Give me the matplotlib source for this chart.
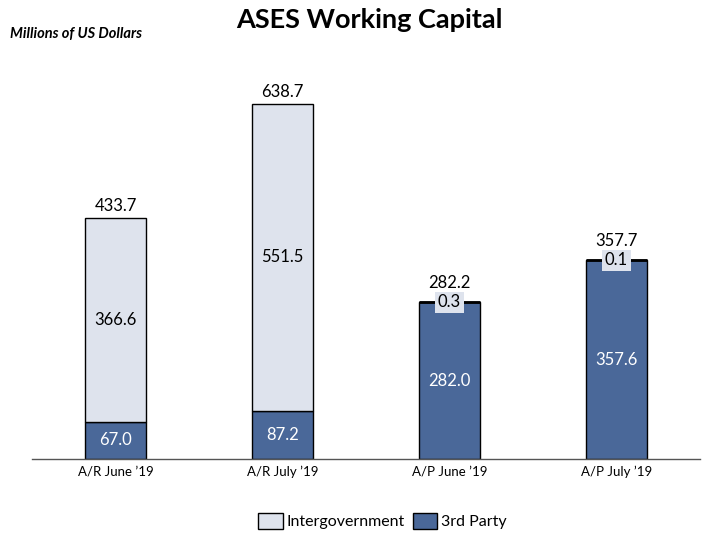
import matplotlib
matplotlib.use("Agg")
import matplotlib.pyplot as plt
from matplotlib.patches import Patch

plt.rcParams['font.family'] = ['Lato', 'DejaVu Sans']

categories = ["A/R June \u201919", "A/R July \u201919", "A/P June \u201919", "A/P July \u201919"]
third_party = [67.0, 87.2, 282.0, 357.6]
intergov = [366.6, 551.5, 0.3, 0.1]
totals = ["433.7", "638.7", "282.2", "357.7"]

light = "#dee3ed"
dark = "#4a6899"

fig = plt.figure(figsize=(7.03, 5.33), dpi=100)
ax = fig.add_axes([32/703, (533-459)/533, 668/703, (459-60)/533])

x = list(range(len(categories)))
w = 0.37
ax.bar(x, third_party, width=w, color=dark, edgecolor="black", linewidth=1, zorder=2)
ax.bar(x, intergov, width=w, bottom=third_party, color=light, edgecolor="black", linewidth=1, zorder=2)

fs = 12
for i in x:
    tp = third_party[i]
    ig = intergov[i]
    top = tp + ig
    ax.text(i, tp / 2, f"{tp:.1f}", ha="center", va="center", color="white", fontsize=fs, zorder=4)
    if ig > 20:
        ax.text(i, tp + ig / 2, f"{ig:.1f}", ha="center", va="center", color="black", fontsize=fs, zorder=4)
        ax.text(i, top + 8, totals[i], ha="center", va="bottom", fontsize=fs, zorder=4)
    else:
        ax.plot([i - w/2, i + w/2], [top, top], color="black", linewidth=2, zorder=3, solid_capstyle="butt")
        ax.text(i, top, f"{ig:.1f}", ha="center", va="center", color="black", fontsize=fs, zorder=4,
                bbox=dict(boxstyle="square,pad=0.15", facecolor=light, edgecolor="none"))
        ax.text(i, top + 20, totals[i], ha="center", va="bottom", fontsize=fs, zorder=4)

ax.set_xlim(-0.5, 3.5)
ax.set_ylim(0, 718)
ax.set_xticks(x)
ax.set_xticklabels(categories, fontsize=9.5)
ax.tick_params(axis="x", length=0, pad=5)
ax.set_yticks([])
for s in ["top", "right", "left"]:
    ax.spines[s].set_visible(False)
ax.spines["bottom"].set_color("#555555")
ax.spines["bottom"].set_linewidth(1)

fig.text(0.525, 1 - 20/533, "ASES Working Capital", ha="center", va="center", fontsize=19.5, fontweight="bold")
fig.text(10/703, 1 - 34/533, "Millions of US Dollars", ha="left", va="center", fontsize=10.5,
         fontweight="bold", fontstyle="italic")

handles = [Patch(facecolor=light, edgecolor="black", label="Intergovernment"),
           Patch(facecolor=dark, edgecolor="black", label="3rd Party")]
fig.legend(handles=handles, loc="center", bbox_to_anchor=(0.544, 1 - 521/533), ncol=2, frameon=False,
           fontsize=11.5, handlelength=1.55, handleheight=1.15, handletextpad=0.25, columnspacing=0.5)

fig.savefig("out.png", dpi=100)
